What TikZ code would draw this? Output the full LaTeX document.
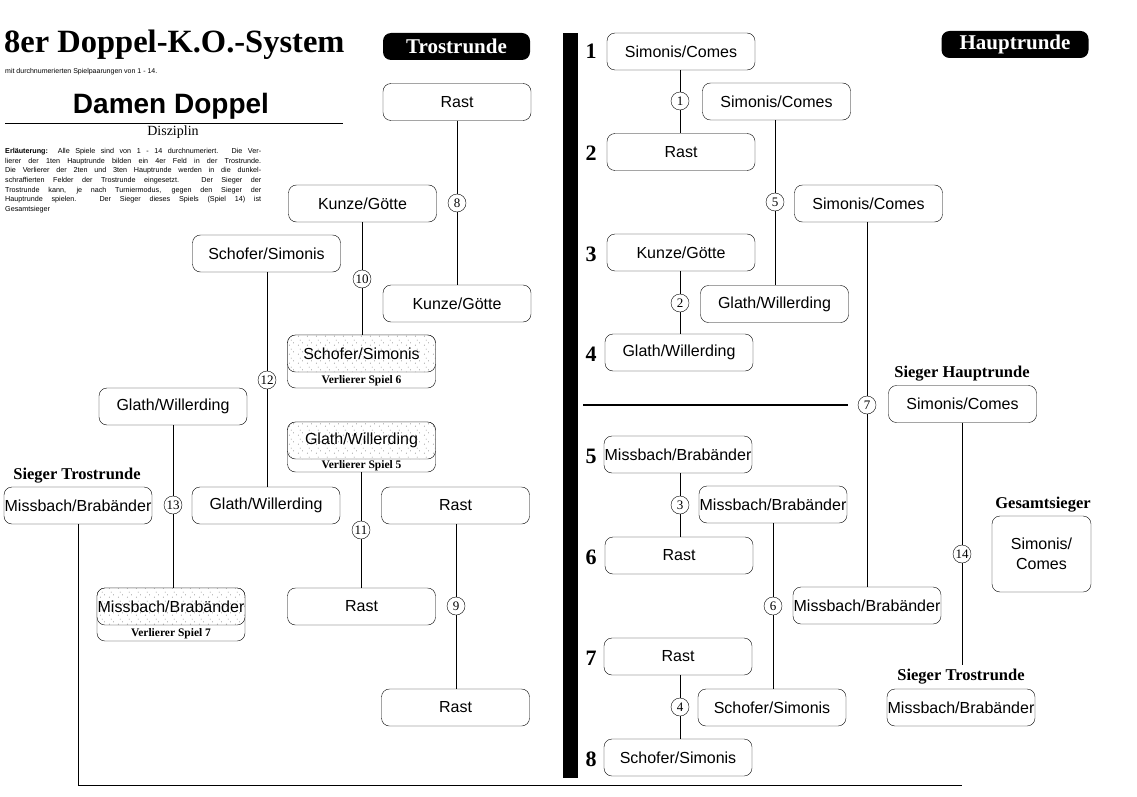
\documentclass[tikz,border=0pt]{standalone}
\usepackage{fontspec}
\usetikzlibrary{patterns}
\setmainfont{Liberation Serif}
\newfontfamily\sansf{Liberation Sans}
\pgfdeclarepatternformonly{sparsedots}{\pgfpointorigin}{\pgfpoint{9pt}{9pt}}{\pgfpoint{9pt}{9pt}}{%
  \pgfpathcircle{\pgfpoint{1.5pt}{2pt}}{0.45pt}%
  \pgfpathcircle{\pgfpoint{6pt}{4.5pt}}{0.45pt}%
  \pgfpathcircle{\pgfpoint{3.5pt}{7.5pt}}{0.45pt}%
  \pgfusepath{fill}}
\begin{document}
\begin{tikzpicture}[x=1pt,y=-1pt,
 box/.style={draw, rounded corners=8pt, minimum width=148pt, minimum height=37pt, inner sep=0pt, font=\sansf\fontsize{16}{19}\selectfont, fill=white},
 shadedbox/.style={box, preaction={fill=white}, pattern=sparsedots, pattern color=black!70},
 lowerframe/.style={draw, rounded corners=8pt, minimum width=148pt, inner sep=0pt, fill=white},
 game/.style={circle, draw, fill=white, minimum size=18pt, inner sep=0pt, font=\fontsize{13}{13}\selectfont},
 lbl/.style={font=\bfseries\fontsize{16.5}{18}\selectfont, inner sep=0pt},
 vlbl/.style={font=\bfseries\fontsize{11.5}{12}\selectfont, inner sep=0pt},
 rnd/.style={font=\bfseries\fontsize{22}{22}\selectfont, inner sep=0pt},
 hdr/.style={fill=black, rounded corners=8pt, minimum width=147pt, minimum height=27pt, inner sep=0pt, text=white, font=\bfseries\fontsize{21}{22}\selectfont},
 conn/.style={line width=0.9pt}
]
\useasboundingbox[fill=white] (0,0) rectangle (1137,797);

% ---- title block ----
\node[anchor=west, inner sep=0pt, font=\bfseries\fontsize{32.5}{34}\selectfont] (title) at (4,45) {8er Doppel-K.O.-System};
\node[anchor=west, inner sep=0pt, font=\sansf\fontsize{7}{8}\selectfont] (subtitle) at (5,72) {mit durchnumerierten Spielpaarungen von 1 - 14.};
\node[inner sep=0pt, font=\sansf\bfseries\fontsize{28}{30}\selectfont] (disc) at (171,106) {Damen Doppel};
\draw[line width=1pt] (5,124) -- (343,124);
\node[inner sep=0pt, font=\fontsize{14}{14}\selectfont] (discl) at (173,132) {Disziplin};
\node[anchor=north west, inner sep=0pt, text width=256pt, align=justify, font=\sansf\fontsize{7.2}{9.7}\selectfont] (expl) at (5,148)
 {\textbf{Erläuterung:} Alle Spiele sind von 1 - 14 durchnumeriert. Die Ver-\linebreak
 lierer der 1ten Hauptrunde bilden ein 4er Feld in der Trostrunde.\linebreak
 Die Verlierer der 2ten und 3ten Hauptrunde werden in die dunkel-\linebreak
 schraffierten Felder der Trostrunde eingesetzt. Der Sieger der\linebreak
 Trostrunde kann, je nach Turniermodus, gegen den Sieger der\linebreak
 Hauptrunde spielen. Der Sieger dieses Spiels (Spiel 14) ist\linebreak
 Gesamtsieger};

% ---- headers ----
\node[hdr] (htrost) at (456.5,46.5) {Trostrunde};
\node[hdr] (hhaupt) at (1015,44.5) {Hauptrunde};

% ---- separator bar ----
\fill (563,33) rectangle (578,778);
\draw[line width=2pt] (583,405) -- (848,405);

% ---- round numbers ----
\foreach \n/\y in {1/51,2/153,3/254,4/354,5/456,6/557,7/658,8/759}
  \node[rnd] (r\n) at (591,\y) {\n};

% ---- Hauptrunde boxes ----
\node[box] (B1) at (681,51.5) {Simonis/Comes};
\node[box] (B2) at (681,152) {Rast};
\node[box] (B3) at (681,252.5) {Kunze/Götte};
\node[box] (B4) at (679,352.5) {Glath/Willerding};
\node[box] (B5) at (678,454.5) {Missbach/Brabänder};
\node[box] (B6) at (679,555.5) {Rast};
\node[box] (B7) at (678,656.5) {Rast};
\node[box] (B8) at (678,757.5) {Schofer/Simonis};

\node[box] (C1) at (776.5,101.5) {Simonis/Comes};
\node[box] (C2) at (774.5,304) {Glath/Willerding};
\node[box] (C3) at (773,504.5) {Missbach/Brabänder};
\node[box] (C4) at (772,707.5) {Schofer/Simonis};

\node[box] (D1) at (868.5,203.5) {Simonis/Comes};
\node[box] (D2) at (867,605.5) {Missbach/Brabänder};

\node[box] (E) at (962.5,404) {Simonis/Comes};
\node[lbl] (Elbl) at (962,374) {Sieger Hauptrunde};
\node[box] (F) at (961,707.5) {Missbach/Brabänder};
\node[lbl] (Flbl) at (961,677) {Sieger Trostrunde};

\node[box, minimum width=99pt, minimum height=76pt, align=center, font=\sansf\fontsize{16}{20}\selectfont] (G) at (1041.5,554) {Simonis/\\Comes};
\node[lbl] (Glbl) at (1043,505) {Gesamtsieger};

% ---- Trostrunde boxes ----
\node[box] (T1) at (457,102) {Rast};
\node[box] (T2) at (457,303.5) {Kunze/Götte};
\node[box] (T3) at (362.5,203.5) {Kunze/Götte};
\node[lowerframe, minimum height=53pt] (T4f) at (361.5,361.5) {};
\node[shadedbox] (T4) at (361.5,353.5) {Schofer/Simonis};
\node[vlbl] (T4l) at (361.5,380.5) {Verlierer Spiel 6};
\node[box] (T5) at (266.5,253.5) {Schofer/Simonis};
\node[box] (T6) at (266,505.5) {Glath/Willerding};
\node[lowerframe, minimum height=50pt] (T7f) at (361.5,447) {};
\node[shadedbox] (T7) at (361.5,440.5) {Glath/Willerding};
\node[vlbl] (T7l) at (361.5,466) {Verlierer Spiel 5};
\node[box] (T8) at (455.5,505.5) {Rast};
\node[box] (T9) at (361.5,606.5) {Rast};
\node[box] (T10) at (455.5,707.5) {Rast};
\node[box] (T11) at (173,406.5) {Glath/Willerding};
\node[lowerframe, minimum height=53pt] (T12f) at (171,614.5) {};
\node[shadedbox] (T12) at (171,606.5) {Missbach/Brabänder};
\node[vlbl] (T12l) at (171,633.5) {Verlierer Spiel 7};
\node[box] (T13) at (78,505.5) {Missbach/Brabänder};
\node[lbl] (T13lbl) at (77,476) {Sieger Trostrunde};

% ---- game circles ----
\node[game] (g1) at (680,101) {1};
\node[game] (g2) at (680,303) {2};
\node[game] (g3) at (680,505) {3};
\node[game] (g4) at (680,707) {4};
\node[game] (g5) at (775,202) {5};
\node[game] (g6) at (773,606) {6};
\node[game] (g7) at (867,405) {7};
\node[game] (g8) at (457,203) {8};
\node[game] (g9) at (456,606) {9};
\node[game] (g10) at (362,279) {10};
\node[game] (g11) at (361,530) {11};
\node[game] (g12) at (267,380) {12};
\node[game] (g13) at (173,505) {13};
\node[game] (g14) at (962,554) {14};

% ---- connectors ----
\draw[conn] (g1 |- B1.south) -- (g1) -- (g1 |- B2.north);
\draw[conn] (g2 |- B3.south) -- (g2) -- (g2 |- B4.north);
\draw[conn] (g3 |- B5.south) -- (g3) -- (g3 |- B6.north);
\draw[conn] (g4 |- B7.south) -- (g4) -- (g4 |- B8.north);
\draw[conn] (g5 |- C1.south) -- (g5) -- (g5 |- C2.north);
\draw[conn] (g6 |- C3.south) -- (g6) -- (g6 |- C4.north);
\draw[conn] (g7 |- D1.south) -- (g7) -- (g7 |- D2.north);
\draw[conn] (g14 |- E.south) -- (g14) -- ([yshift=4pt]g14 |- Flbl.north);
\draw[conn] (g8 |- T1.south) -- (g8) -- (g8 |- T2.north);
\draw[conn] (g10 |- T3.south) -- (g10) -- (g10 |- T4.north);
\draw[conn] (g12 |- T5.south) -- (g12) -- (g12 |- T6.north);
\draw[conn] (g11 |- T7f.south) -- (g11) -- (g11 |- T9.north);
\draw[conn] (g9 |- T8.south) -- (g9) -- (g9 |- T10.north);
\draw[conn] (g13 |- T11.south) -- (g13) -- (g13 |- T12.north);
\coordinate (bend) at (78,785);
\coordinate (bottomend) at (962,785);
\draw[conn] (T13.south) -- (bend) -- (bottomend);
\end{tikzpicture}
\end{document}
